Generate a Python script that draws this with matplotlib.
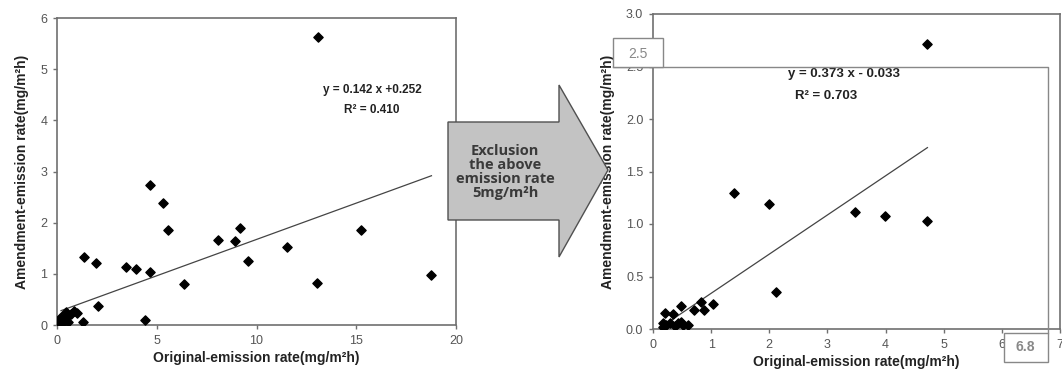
import matplotlib
matplotlib.use("Agg")
import matplotlib.pyplot as plt
from matplotlib.patches import Polygon, Rectangle
from matplotlib.lines import Line2D

plt.rcParams['font.family'] = ['Liberation Sans Narrow', 'Liberation Sans', 'DejaVu Sans']

# left panel: all samples
x_all = [13.08, 4.68, 5.33, 5.57, 9.15, 8.09, 8.92, 15.26, 11.51, 9.57, 18.77,
         1.36, 1.96, 3.44, 3.94, 4.68, 6.39, 13.03, 2.08, 4.41, 1.31,
         0.55, 0.83, 1.00, 0.47, 0.22, 0.10, 0.30, 0.55, 0.13, 0.38, 0.70, 0.18]
y_all = [5.62, 2.73, 2.38, 1.85, 1.89, 1.66, 1.65, 1.85, 1.53, 1.25, 0.97,
         1.32, 1.21, 1.13, 1.09, 1.04, 0.80, 0.83, 0.37, 0.10, 0.05,
         0.20, 0.27, 0.24, 0.25, 0.16, 0.07, 0.05, 0.05, 0.00, 0.11, 0.22, 0.12]
fit_all = (0.142, 0.252)
fit_all_x = [0.2, 18.77]

# right panel: samples below 5 mg/m2h
x_low = [4.71, 1.40, 1.99, 3.48, 3.99, 4.72, 2.12, 0.48, 0.83, 1.03, 0.70, 0.87,
         0.20, 0.34, 0.18, 0.23, 0.29, 0.38, 0.43, 0.49, 0.52, 0.60, 0.18]
y_low = [2.71, 1.30, 1.19, 1.11, 1.08, 1.03, 0.35, 0.22, 0.26, 0.24, 0.18, 0.18,
         0.15, 0.14, 0.06, 0.04, 0.06, 0.03, 0.06, 0.07, 0.04, 0.04, 0.02]
fit_low = (0.373, -0.033)
fit_low_x = [0.32, 4.72]

xticks_all = [0, 5, 10, 15, 20]
yticks_all = [0, 1, 2, 3, 4, 5, 6]
xticks_low = [0, 1, 2, 3, 4, 5, 6, 7]
yticks_low = [0.0, 0.5, 1.0, 1.5, 2.0, 2.5, 3.0]

W, H = 1062, 374
fig = plt.figure(figsize=(W / 100, H / 100), dpi=100)


def px(x0, y0, x1, y1):
    # axes rect from pixel box
    return [x0 / W, 1 - y1 / H, (x1 - x0) / W, (y1 - y0) / H]


def style(ax):
    for s in ax.spines.values():
        s.set_color('#707070')
        s.set_linewidth(1.2)
    ax.tick_params(direction='out', length=3, width=1, color='#707070',
                   labelsize=9, labelcolor='#555555', pad=4)


label_kw = dict(fontsize=10, fontweight='bold', color='#222222')
xlab = 'Original-emission rate(mg/m²h)'
ylab = 'Amendment-emission rate(mg/m²h)'

ax1 = fig.add_axes(px(57, 18, 456, 325))
ax1.scatter(x_all, y_all, marker='D', s=22, color='black', zorder=3)
ax1.plot(fit_all_x, [fit_all[0] * v + fit_all[1] for v in fit_all_x],
         color='#444444', lw=0.9)
ax1.set_xlim(0, 20)
ax1.set_ylim(0, 6)
ax1.set_xticks(xticks_all)
ax1.set_yticks(yticks_all)
style(ax1)
ax1.set_xlabel(xlab, labelpad=3, **label_kw)
ax1.set_ylabel(ylab, labelpad=8, **label_kw)
ax1.text(0.79, 0.755, 'y = 0.142 x +0.252', transform=ax1.transAxes,
         ha='center', fontsize=8.5, fontweight='bold', color='#222222')
ax1.text(0.79, 0.69, 'R² = 0.410', transform=ax1.transAxes,
         ha='center', fontsize=8.5, fontweight='bold', color='#222222')

ax2 = fig.add_axes(px(653, 14, 1060, 329))
ax2.scatter(x_low, y_low, marker='D', s=22, color='black', zorder=3)
ax2.plot(fit_low_x, [fit_low[0] * v + fit_low[1] for v in fit_low_x],
         color='#444444', lw=0.9)
ax2.set_xlim(0, 7)
ax2.set_ylim(0, 3)
ax2.set_xticks(xticks_low)
ax2.set_yticks(yticks_low)
ax2.set_yticklabels([f'{v:.1f}' for v in yticks_low])
style(ax2)
ax2.set_xlabel(xlab, labelpad=3, **label_kw)
ax2.set_ylabel(ylab, labelpad=8, **label_kw)
ax2.text(0.47, 0.80, 'y = 0.373 x - 0.033', transform=ax2.transAxes,
         ha='center', fontsize=9.5, fontweight='bold', color='#222222')
ax2.text(0.35, 0.73, 'R² = 0.703', transform=ax2.transAxes,
         ha='left', fontsize=9.5, fontweight='bold', color='#222222')

# leftover edit boxes over the right panel
box_col = '#888888'
fig.add_artist(Line2D([613 / W, 1048 / W, 1048 / W], [1 - 67 / H, 1 - 67 / H, 1 - 333 / H],
                      color=box_col, lw=1.0, zorder=10))
fig.add_artist(Rectangle((613 / W, 1 - 67 / H), 50 / W, 29 / H, transform=fig.transFigure,
                         facecolor='white', edgecolor=box_col, lw=1.0, zorder=11))
fig.text(638 / W, 1 - 54 / H, '2.5', ha='center', va='center', fontsize=10,
         color='#888888', family=['Liberation Sans', 'DejaVu Sans'], zorder=12)
fig.add_artist(Rectangle((1004 / W, 1 - 362 / H), 44 / W, 29 / H, transform=fig.transFigure,
                         facecolor='white', edgecolor=box_col, lw=1.0, zorder=11))
fig.text(1025 / W, 1 - 347 / H, '6.8', ha='center', va='center', fontsize=10,
         color='#888888', fontweight='bold', family=['Liberation Sans', 'DejaVu Sans'], zorder=12)

# arrow between panels
arrow_px = [(448, 122), (559, 122), (559, 85), (608, 170), (559, 257), (559, 220), (448, 220)]
fig.add_artist(Polygon([(x / W, 1 - y / H) for x, y in arrow_px], closed=True,
                       transform=fig.transFigure, facecolor='#c3c3c3',
                       edgecolor='#505050', lw=1.0, zorder=20))
fig.text(505 / W, 1 - 172 / H, 'Exclusion\nthe above\nemission rate\n5mg/m²h',
         ha='center', va='center', fontsize=10.5, fontweight='bold', color='#3a3a3a',
         family=['Open Sans', 'DejaVu Sans'], linespacing=1.0, zorder=21)

fig.savefig('out.png', dpi=100)
